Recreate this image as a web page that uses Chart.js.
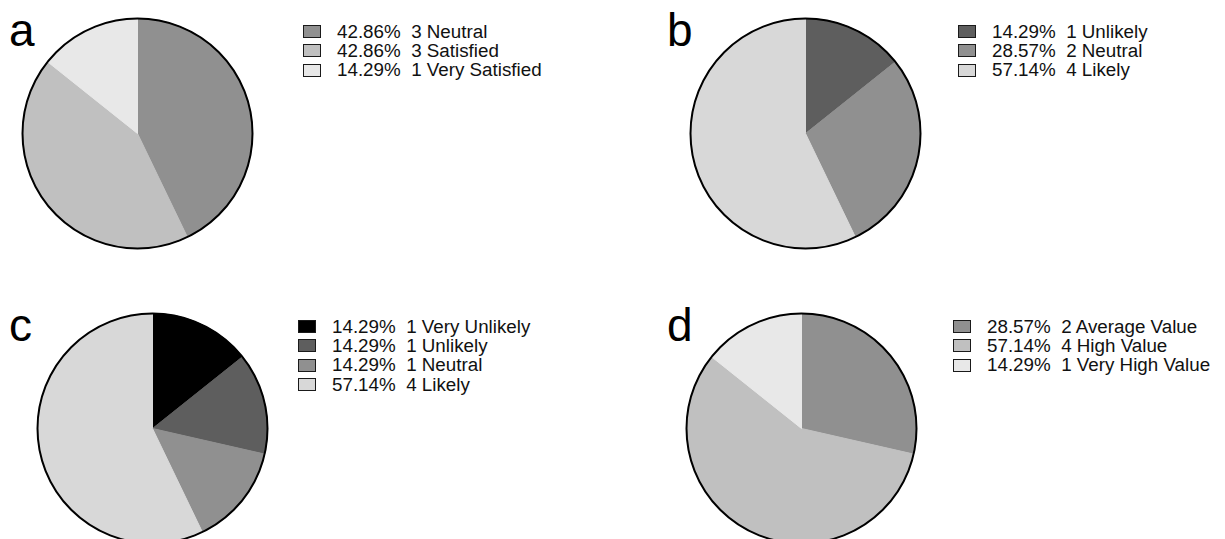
<!DOCTYPE html>
<html lang="en">
<head>
    <meta charset="UTF-8">
    <title>Survey Pie Charts</title>
    <script src="https://cdn.jsdelivr.net/npm/chart.js"></script>
    <style>
    body {
        margin: 0;
        padding: 0;
        background: #fff;
        font-family: "Liberation Sans", Arial, sans-serif;
        width: 1225px;
        height: 539px;
        overflow: hidden;
        position: relative;
    }
    .letter {
        position: absolute;
        font-size: 46px;
        line-height: 1;
        color: #000;
    }
    .pie {
        position: absolute;
        width: 235px;
        height: 235px;
    }
    .legend {
        position: absolute;
        font-size: 18.8px;
        color: #111;
    }
    .legend .row {
        display: flex;
        align-items: center;
        height: 19.3px;
        white-space: pre;
    }
    .legend .box {
        flex: none;
        box-sizing: border-box;
        width: 18px;
        height: 13px;
        border: 1.6px solid #1a1a1a;
        margin-right: 16px;
    }
    </style>
</head>
<body>
    <div class="letter" style="left:9px; top:7px;">a</div>
    <div class="letter" style="left:667px; top:7px;">b</div>
    <div class="letter" style="left:9px; top:302px;">c</div>
    <div class="letter" style="left:667px; top:302px;">d</div>

    <canvas class="pie" id="pie-a" width="235" height="235" style="left:20px; top:15.5px;"></canvas>
    <canvas class="pie" id="pie-b" width="235" height="235" style="left:688px; top:15.5px;"></canvas>
    <canvas class="pie" id="pie-c" width="235" height="235" style="left:35px; top:310.5px;"></canvas>
    <canvas class="pie" id="pie-d" width="235" height="235" style="left:683.5px; top:310.5px;"></canvas>

    <div class="legend" id="legend-a" style="left:303px; top:22px;"></div>
    <div class="legend" id="legend-b" style="left:958px; top:22px;"></div>
    <div class="legend" id="legend-c" style="left:298px; top:317px;"></div>
    <div class="legend" id="legend-d" style="left:953px; top:317px;"></div>

    <script>
        // survey answers, counts out of 7 respondents
        const labelsA = ['Neutral', 'Satisfied', 'Very Satisfied'];
        const countsA = [3, 3, 1];
        const coloursA = ['#909090', '#c0c0c0', '#e8e8e8'];

        const labelsB = ['Unlikely', 'Neutral', 'Likely'];
        const countsB = [1, 2, 4];
        const coloursB = ['#5e5e5e', '#909090', '#d8d8d8'];

        const labelsC = ['Very Unlikely', 'Unlikely', 'Neutral', 'Likely'];
        const countsC = [1, 1, 1, 4];
        const coloursC = ['#000000', '#5e5e5e', '#909090', '#d8d8d8'];

        const labelsD = ['Average Value', 'High Value', 'Very High Value'];
        const countsD = [2, 4, 1];
        const coloursD = ['#909090', '#c0c0c0', '#e8e8e8'];

        // black rim round the whole pie only, no lines between slices
        const outlinePlugin = {
            id: 'outline',
            afterDatasetsDraw(chart) {
                const arc = chart.getDatasetMeta(0).data[0];
                const ctx = chart.ctx;
                ctx.save();
                ctx.beginPath();
                ctx.arc(arc.x, arc.y, arc.outerRadius, 0, Math.PI * 2);
                ctx.lineWidth = 2;
                ctx.strokeStyle = '#000';
                ctx.stroke();
                ctx.restore();
            }
        };

        function makePie(id, labels, counts, colours) {
            new Chart(document.getElementById(id), {
                type: 'pie',
                data: {
                    labels: labels,
                    datasets: [{
                        data: counts,
                        backgroundColor: colours,
                        borderColor: colours,
                        borderWidth: 1,
                        hoverOffset: 0
                    }]
                },
                options: {
                    responsive: false,
                    animation: false,
                    events: [],
                    layout: { padding: 2 },
                    plugins: {
                        legend: { display: false },
                        tooltip: { enabled: false }
                    }
                },
                plugins: [outlinePlugin]
            });
        }

        function makeLegend(id, labels, counts, colours) {
            const total = counts.reduce((s, v) => s + v, 0);
            const el = document.getElementById(id);
            labels.forEach((lab, i) => {
                const row = document.createElement('div');
                row.className = 'row';
                const box = document.createElement('span');
                box.className = 'box';
                box.style.background = colours[i];
                const txt = document.createElement('span');
                txt.textContent = (counts[i] / total * 100).toFixed(2) + '%  ' + counts[i] + ' ' + lab;
                row.appendChild(box);
                row.appendChild(txt);
                el.appendChild(row);
            });
        }

        makePie('pie-a', labelsA, countsA, coloursA);
        makePie('pie-b', labelsB, countsB, coloursB);
        makePie('pie-c', labelsC, countsC, coloursC);
        makePie('pie-d', labelsD, countsD, coloursD);

        makeLegend('legend-a', labelsA, countsA, coloursA);
        makeLegend('legend-b', labelsB, countsB, coloursB);
        makeLegend('legend-c', labelsC, countsC, coloursC);
        makeLegend('legend-d', labelsD, countsD, coloursD);
    </script>
</body>
</html>
